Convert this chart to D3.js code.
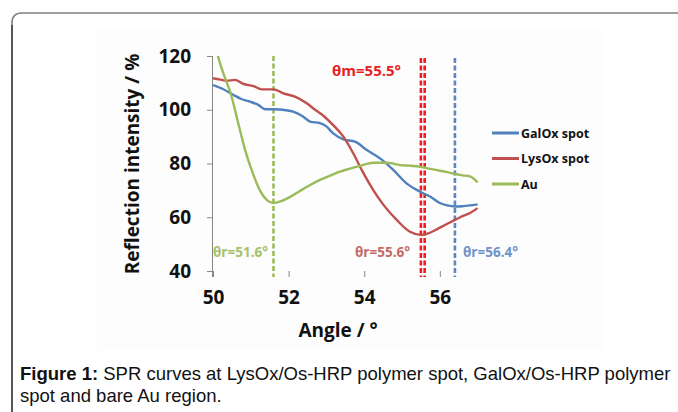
<!DOCTYPE html>
<html>
<head>
<meta charset="utf-8">
<script src="https://cdn.jsdelivr.net/npm/d3@7"></script>
<style>
  body { margin: 0; background: #fff; }
  svg { display: block; }
</style>
</head>
<body>
<div id="chart"></div>
<script>
// angle (deg) / reflection intensity (%)
var galAngle = [50.0, 50.25, 50.54, 50.75, 50.98, 51.2, 51.38, 51.6, 51.77, 52.12, 52.35, 52.57, 52.83, 53.0, 53.18, 53.45, 53.76, 54.07, 54.42, 54.77, 55.12, 55.48, 55.75, 56.0, 56.2, 56.4, 56.6, 56.8, 57.0];
var galValue = [109.2, 107.8, 105.5, 104.0, 103.0, 101.8, 100.2, 100.2, 100.1, 99.3, 97.8, 95.6, 95.0, 93.8, 91.2, 89.0, 88.1, 85.0, 81.9, 77.6, 72.6, 69.5, 67.6, 65.3, 64.4, 64.0, 64.1, 64.4, 64.8];

var lysAngle = [50.0, 50.2, 50.36, 50.58, 50.8, 51.07, 51.29, 51.6, 51.86, 52.17, 52.48, 52.7, 52.95, 53.18, 53.45, 53.71, 53.98, 54.24, 54.51, 54.86, 55.21, 55.52, 55.7, 55.92, 56.15, 56.4, 56.6, 56.8, 57.0];
var lysValue = [111.7, 111.2, 110.8, 111.1, 109.6, 108.8, 107.6, 107.6, 106.1, 104.9, 102.4, 100.0, 97.4, 94.3, 90.0, 83.8, 76.4, 70.1, 64.6, 59.0, 54.6, 53.4, 54.0, 55.5, 57.2, 59.0, 60.4, 61.6, 63.4];

var auAngle = [50.0, 50.13, 50.3, 50.48, 50.65, 50.85, 51.05, 51.24, 51.42, 51.6, 51.8, 52.04, 52.3, 52.57, 52.83, 53.1, 53.36, 53.6, 53.89, 54.24, 54.6, 54.95, 55.2, 55.48, 55.75, 56.0, 56.2, 56.4, 56.6, 56.8, 57.0];
var auValue = [128.0, 120.0, 112.5, 105.5, 96.0, 85.0, 76.5, 70.0, 66.5, 65.3, 66.0, 67.6, 69.8, 72.0, 73.9, 75.5, 77.0, 78.0, 79.1, 80.3, 80.3, 79.4, 79.2, 78.8, 78.0, 77.3, 76.8, 76.1, 75.6, 75.2, 73.0];

var seriesNames = ["GalOx spot", "LysOx spot", "Au"];
var seriesColors = ["#4f81bd", "#c0504d", "#9bbb59"];

var xTicks = [50, 52, 54, 56];
var yTicks = [40, 60, 80, 100, 120];

// marker lines: angle, color, label
var markerAngles = [51.6, 55.5, 55.6, 56.4];
var markerColors = ["#9bbb59", "#ee1c25", "#ee1c25", "#5a86c6"];
var labelTexts = ["θr=51.6°", "θm=55.5°", "θr=55.6°", "θr=56.4°"];

var W = 678, H = 412;
var svg = d3.select("#chart").append("svg")
  .attr("width", W)
  .attr("height", H)
  .style("font-family", "'Open Sans', 'DejaVu Sans', sans-serif");

// frame with rounded corner
svg.append("path")
  .attr("d", "M12,412 V23 Q12,13 22,13 H678")
  .attr("fill", "none")
  .attr("stroke", "#7f7f7f")
  .attr("stroke-width", 1.6);
svg.append("path")
  .attr("d", "M12,412 V25")
  .attr("stroke", "#3a3a3a")
  .attr("stroke-width", 1.4);

// faint chart area
svg.append("rect")
  .attr("x", 97).attr("y", 29)
  .attr("width", 506).attr("height", 321)
  .attr("fill", "#fdfdfd");

var x = d3.scaleLinear().domain([50, 57]).range([213, 477.6]);
var y = d3.scaleLinear().domain([40, 120]).range([271, 56]);

svg.append("defs").append("clipPath").attr("id", "plot")
  .append("rect").attr("x", 213).attr("y", 56).attr("width", 280).attr("height", 222);

// y axis
var yAxis = svg.append("g")
  .attr("transform", "translate(213,0)")
  .call(d3.axisLeft(y).tickValues(yTicks).tickSize(6).tickPadding(16));
yAxis.select(".domain").attr("d", "M-0.5,56V277").attr("stroke", "#868686");
yAxis.selectAll(".tick line").attr("stroke", "#868686");
yAxis.selectAll(".tick text")
  .attr("font-size", 19).attr("font-weight", "bold").attr("fill", "#111")
  .attr("font-family", "'Open Sans', sans-serif");

// x axis (no baseline, only ticks below)
var xAxis = svg.append("g")
  .attr("transform", "translate(0,271)")
  .call(d3.axisBottom(x).tickValues(xTicks).tickFormat(d3.format("d")).tickSize(6).tickPadding(14));
xAxis.select(".domain").remove();
xAxis.selectAll(".tick line").attr("stroke", "#868686");
xAxis.selectAll(".tick text")
  .attr("font-size", 19).attr("font-weight", "bold").attr("fill", "#111")
  .attr("font-family", "'Open Sans', sans-serif");

// axis titles
svg.append("text")
  .attr("transform", "translate(139,164) rotate(-90)")
  .attr("text-anchor", "middle")
  .attr("font-size", 19).attr("font-weight", "bold").attr("fill", "#111")
  .text("Reflection intensity / %");
svg.append("text")
  .attr("x", 338).attr("y", 337)
  .attr("text-anchor", "middle")
  .attr("font-size", 19).attr("font-weight", "bold").attr("fill", "#111")
  .text("Angle / °");

// vertical dashed markers
markerAngles.forEach(function (a, i) {
  svg.append("line")
    .attr("x1", x(a)).attr("x2", x(a))
    .attr("y1", i == 0 ? 56 : 58).attr("y2", 277)
    .attr("stroke", markerColors[i])
    .attr("stroke-width", 2.6)
    .attr("stroke-dasharray", "5,2.5");
});

// series lines
var line = d3.line()
  .x(function (d) { return x(d[0]); })
  .y(function (d) { return y(d[1]); })
  .curve(d3.curveMonotoneX);

var series = [
  d3.zip(galAngle, galValue),
  d3.zip(lysAngle, lysValue),
  d3.zip(auAngle, auValue)
];

series.forEach(function (s, i) {
  svg.append("path")
    .datum(s)
    .attr("clip-path", "url(#plot)")
    .attr("fill", "none")
    .attr("stroke", seriesColors[i])
    .attr("stroke-width", 2.4)
    .attr("stroke-linejoin", "round")
    .attr("d", line);
});

// annotations
svg.append("text")
  .attr("x", 332).attr("y", 76)
  .attr("font-size", 15).attr("font-weight", "bold").attr("fill", "#e41f26")
  .text(labelTexts[1]);
var smallLabels = [
  { t: labelTexts[0], x: 213, c: "#a5c16b" },
  { t: labelTexts[2], x: 355, c: "#c36a68" },
  { t: labelTexts[3], x: 463, c: "#6d93c9" }
];
smallLabels.forEach(function (l) {
  svg.append("text")
    .attr("x", l.x).attr("y", 257)
    .attr("font-size", 13.5).attr("font-weight", "bold").attr("fill", l.c)
    .text(l.t);
});

// legend
var legend = svg.append("g").attr("transform", "translate(492,133)");
seriesNames.forEach(function (name, i) {
  var row = legend.append("g").attr("transform", "translate(0," + (i * 25.5) + ")");
  row.append("line")
    .attr("x1", 0).attr("x2", 27)
    .attr("stroke", seriesColors[i]).attr("stroke-width", 3);
  row.append("text")
    .attr("x", 29).attr("y", 4.5)
    .attr("font-size", 12.5).attr("font-weight", "bold").attr("fill", "#111")
    .text(name);
});

// caption
var cap = svg.append("text")
  .attr("font-family", "'Liberation Sans', Arial, sans-serif")
  .attr("font-size", 18.5).attr("fill", "#111");
cap.append("tspan").attr("x", 20).attr("y", 380).attr("font-weight", "bold").text("Figure 1:");
cap.append("tspan").text(" SPR curves at LysOx/Os-HRP polymer spot, GalOx/Os-HRP polymer");
cap.append("tspan").attr("x", 20).attr("y", 402).text("spot and bare Au region.");
</script>
</body>
</html>
